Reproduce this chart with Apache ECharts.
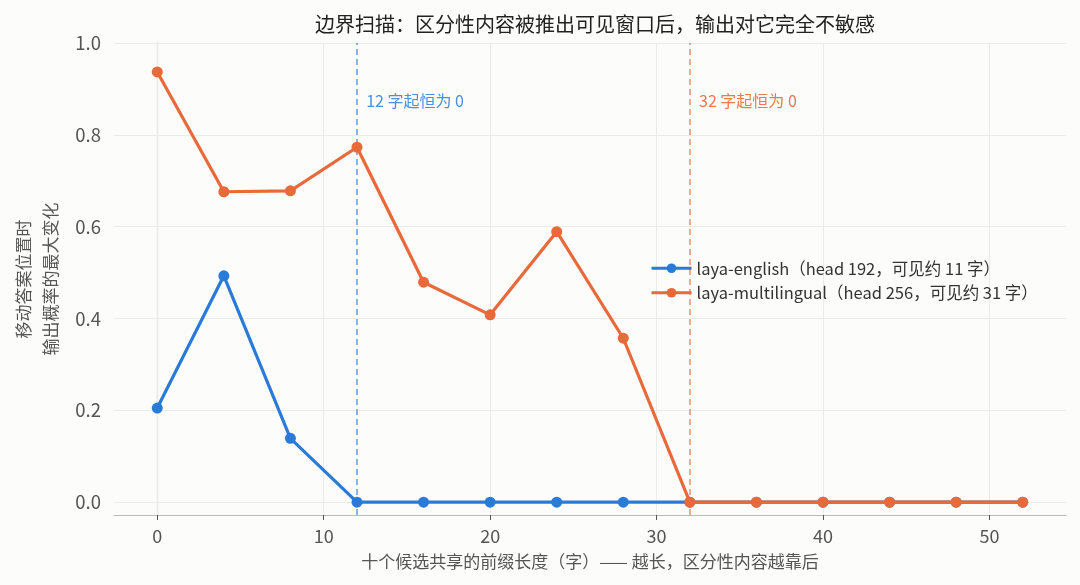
<!DOCTYPE html>
<html><head><meta charset="utf-8">
<script src="https://cdn.jsdelivr.net/npm/echarts@6/dist/echarts.min.js"></script>
<style>html,body{margin:0;padding:0;background:#fcfcfa;}#c{width:1080px;height:585px;}</style>
</head><body><div id="c"></div>
<script>
const prefixLen = [0, 4, 8, 12, 16, 20, 24, 28, 32, 36, 40, 44, 48, 52];
const english = [0.205, 0.493, 0.139, 0, 0, 0, 0, 0, 0, 0, 0, 0, 0, 0];
const multilingual = [0.937, 0.676, 0.678, 0.773, 0.479, 0.408, 0.589, 0.357, 0, 0, 0, 0, 0, 0];
const xTicks = [0, 10, 20, 30, 40, 50];
const yTicks = [0, 0.2, 0.4, 0.6, 0.8, 1.0];
const englishCut = 12, multiCut = 32;
const englishName = 'laya-english（head 192，可见约 11 字）';
const multiName = 'laya-multilingual（head 256，可见约 31 字）';
const titleText = '边界扫描：区分性内容被推出可见窗口后，输出对它完全不敏感';
const xName = '十个候选共享的前缀长度（字）—— 越长，区分性内容越靠后';
const yName = '移动答案位置时\n输出概率的最大变化';

const BLUE = '#2a7ad8', ORANGE = '#e8693a';
const FONT = '"Noto Sans CJK SC", "Noto Sans", sans-serif';
const chart = echarts.init(document.getElementById('c'));
const pair = arr => prefixLen.map((x, i) => [x, arr[i]]);
chart.setOption({
  backgroundColor: '#fcfcfa',
  textStyle: { fontFamily: FONT },
  title: { text: titleText, left: 590, top: 9, textAlign: 'center',
    textStyle: { fontSize: 20, fontWeight: 'normal', color: '#222', fontFamily: FONT } },
  grid: { left: 114, right: 14, top: 43, bottom: 70 },
  legend: { left: 645, top: 255, orient: 'vertical', itemGap: 8, itemWidth: 40, itemHeight: 12,
    lineStyle: { width: 3 },
    textStyle: { fontSize: 16.5, color: '#333', fontFamily: FONT },
    data: [englishName, multiName] },
  xAxis: { type: 'value', min: -2.6, max: 54.6,
    name: xName, nameLocation: 'middle', nameGap: 38,
    nameTextStyle: { fontSize: 17, color: '#555', fontFamily: FONT },
    axisLine: { onZero: false, lineStyle: { color: '#bbb', width: 1.2 } },
    axisTick: { customValues: xTicks, length: 5, lineStyle: { color: '#555' } },
    axisLabel: { customValues: xTicks, fontSize: 18, color: '#555', margin: 12 },
    splitLine: { show: false } },
  yAxis: { type: 'value', min: -0.028, max: 1.0,
    name: yName, nameLocation: 'middle', nameGap: 48, nameRotate: 90,
    nameTextStyle: { fontSize: 17, color: '#555', lineHeight: 27, fontFamily: FONT },
    axisLine: { show: true, lineStyle: { color: '#bbb', width: 1.2 } },
    axisTick: { show: true, customValues: yTicks, length: 5, lineStyle: { color: '#555' } },
    axisLabel: { customValues: yTicks, fontSize: 18.5, color: '#555', margin: 13,
      formatter: v => v.toFixed(1) },
    splitLine: { show: false } },
  series: [
    { type: 'line', name: '__grid', data: [], silent: true, z: 1,
      markLine: { silent: true, symbol: 'none', label: { show: false }, z: 1,
        emphasis: { disabled: true },
        lineStyle: { color: '#ebebe8', type: 'solid', width: 1 },
        data: xTicks.map(v => ({ xAxis: v })).concat(yTicks.map(v => ({ yAxis: v }))) } },
    { type: 'line', name: englishName, data: pair(english), z: 3,
      color: BLUE, symbol: 'circle', symbolSize: 11,
      lineStyle: { width: 3.2, color: BLUE }, itemStyle: { color: BLUE },
      markLine: { silent: true, symbol: 'none', label: { show: false }, z: 2,
        emphasis: { disabled: true },
        lineStyle: { color: '#5c9ae6', type: [6, 4], width: 1.5 },
        data: [{ xAxis: englishCut }] },
      markPoint: { symbol: 'circle', symbolSize: 0,
        data: [{ coord: [12.55, 0.874], value: englishCut + ' 字起恒为 0' }],
        label: { show: true, position: 'right', distance: 0, formatter: p => p.value,
          color: '#4a8fe0', fontSize: 16, fontFamily: FONT } } },
    { type: 'line', name: multiName, data: pair(multilingual), z: 4,
      color: ORANGE, symbol: 'circle', symbolSize: 11,
      lineStyle: { width: 3.2, color: ORANGE }, itemStyle: { color: ORANGE },
      markLine: { silent: true, symbol: 'none', label: { show: false }, z: 2,
        emphasis: { disabled: true },
        lineStyle: { color: '#f09068', type: [6, 4], width: 1.5 },
        data: [{ xAxis: multiCut }] },
      markPoint: { symbol: 'circle', symbolSize: 0,
        data: [{ coord: [32.55, 0.874], value: multiCut + ' 字起恒为 0' }],
        label: { show: true, position: 'right', distance: 0, formatter: p => p.value,
          color: '#ec7a4d', fontSize: 16, fontFamily: FONT } } }
  ]
});
</script></body></html>
